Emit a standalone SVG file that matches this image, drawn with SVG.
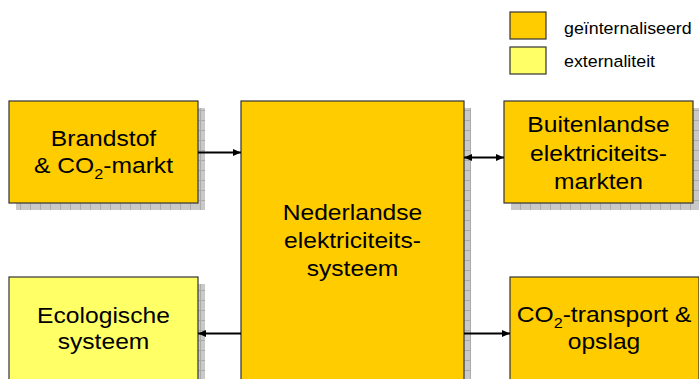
<svg xmlns="http://www.w3.org/2000/svg" width="699" height="379" viewBox="0 0 699 379">
<defs>
<pattern id="grid" patternUnits="userSpaceOnUse" width="10" height="10">
<rect width="10" height="10" fill="#c9c9c9"/>
<path d="M0,0.5 H10 M0.5,0 V10" stroke="#ababab" stroke-width="1"/>
</pattern>
<marker id="ah" markerUnits="userSpaceOnUse" markerWidth="8" markerHeight="7" refX="8" refY="3.5" orient="auto-start-reverse">
<path d="M0,0 L8,3.5 L0,7 z" fill="#000"/>
</marker>
</defs>
<style>
.shadow{fill:url(#grid);}
.int{fill:#ffcc00;stroke:#333;stroke-width:1.2;}
.ext{fill:#ffff66;stroke:#333;stroke-width:1.2;}
.t{font-family:"Liberation Sans",Arial,sans-serif;font-size:22px;fill:#000;text-anchor:middle;}
.lg{font-family:"Liberation Sans",Arial,sans-serif;font-size:16.5px;fill:#000;}
.sub{font-size:14.5px;}
.conn{stroke:#000;stroke-width:2;fill:none;}
</style>

<g id="legend">
<rect class="int" x="510" y="12" width="36" height="27"/>
<rect class="ext" x="510" y="47" width="36" height="27"/>
<text class="lg" transform="translate(564,34) scale(1.08,1)">geïnternaliseerd</text>
<text class="lg" transform="translate(564,67) scale(1.08,1)">externaliteit</text>
</g>

<g id="brandstof">
<rect class="shadow" x="16" y="108" width="189" height="102"/>
<rect class="int" x="9" y="101" width="189" height="102"/>
<text class="t" transform="translate(103.5,146) scale(1.12,1)">Brandstof</text>
<text class="t" transform="translate(103.5,173) scale(1.12,1)">&amp; CO<tspan class="sub" dy="6">2</tspan><tspan dy="-6">-markt</tspan></text>
</g>

<g id="nederlandse">
<rect class="shadow" x="248" y="108" width="223" height="280"/>
<rect class="int" x="241" y="101" width="223" height="290"/>
<text class="t" transform="translate(352.5,220) scale(1.12,1)">Nederlandse</text>
<text class="t" transform="translate(352.5,248) scale(1.12,1)">elektriciteits-</text>
<text class="t" transform="translate(352.5,276) scale(1.12,1)">systeem</text>
</g>

<g id="buitenlandse">
<rect class="shadow" x="511" y="108" width="189" height="102"/>
<rect class="int" x="504" y="101" width="189" height="102"/>
<text class="t" transform="translate(598.5,132) scale(1.12,1)">Buitenlandse</text>
<text class="t" transform="translate(598.5,161) scale(1.12,1)">elektriciteits-</text>
<text class="t" transform="translate(598.5,189) scale(1.12,1)">markten</text>
</g>

<g id="ecologische">
<rect class="shadow" x="16" y="284" width="189" height="110"/>
<rect class="ext" x="9" y="277" width="189" height="110"/>
<text class="t" transform="translate(103.5,323) scale(1.12,1)">Ecologische</text>
<text class="t" transform="translate(103.5,349) scale(1.12,1)">systeem</text>
</g>

<g id="co2transport">
<rect class="shadow" x="517" y="284" width="189" height="110"/>
<rect class="int" x="510" y="277" width="189" height="110"/>
<text class="t" transform="translate(604,322) scale(1.12,1)">CO<tspan class="sub" dy="6">2</tspan><tspan dy="-6">-transport &amp;</tspan></text>
<text class="t" transform="translate(604,349) scale(1.12,1)">opslag</text>
</g>

<g id="connectors">
<line class="conn" x1="198" y1="152.5" x2="241" y2="152.5" marker-end="url(#ah)"/>
<line class="conn" x1="464" y1="157.5" x2="504" y2="157.5" marker-start="url(#ah)" marker-end="url(#ah)"/>
<line class="conn" x1="241" y1="333.5" x2="198" y2="333.5" marker-end="url(#ah)"/>
<line class="conn" x1="464" y1="333.5" x2="510" y2="333.5" marker-end="url(#ah)"/>
</g>
</svg>
